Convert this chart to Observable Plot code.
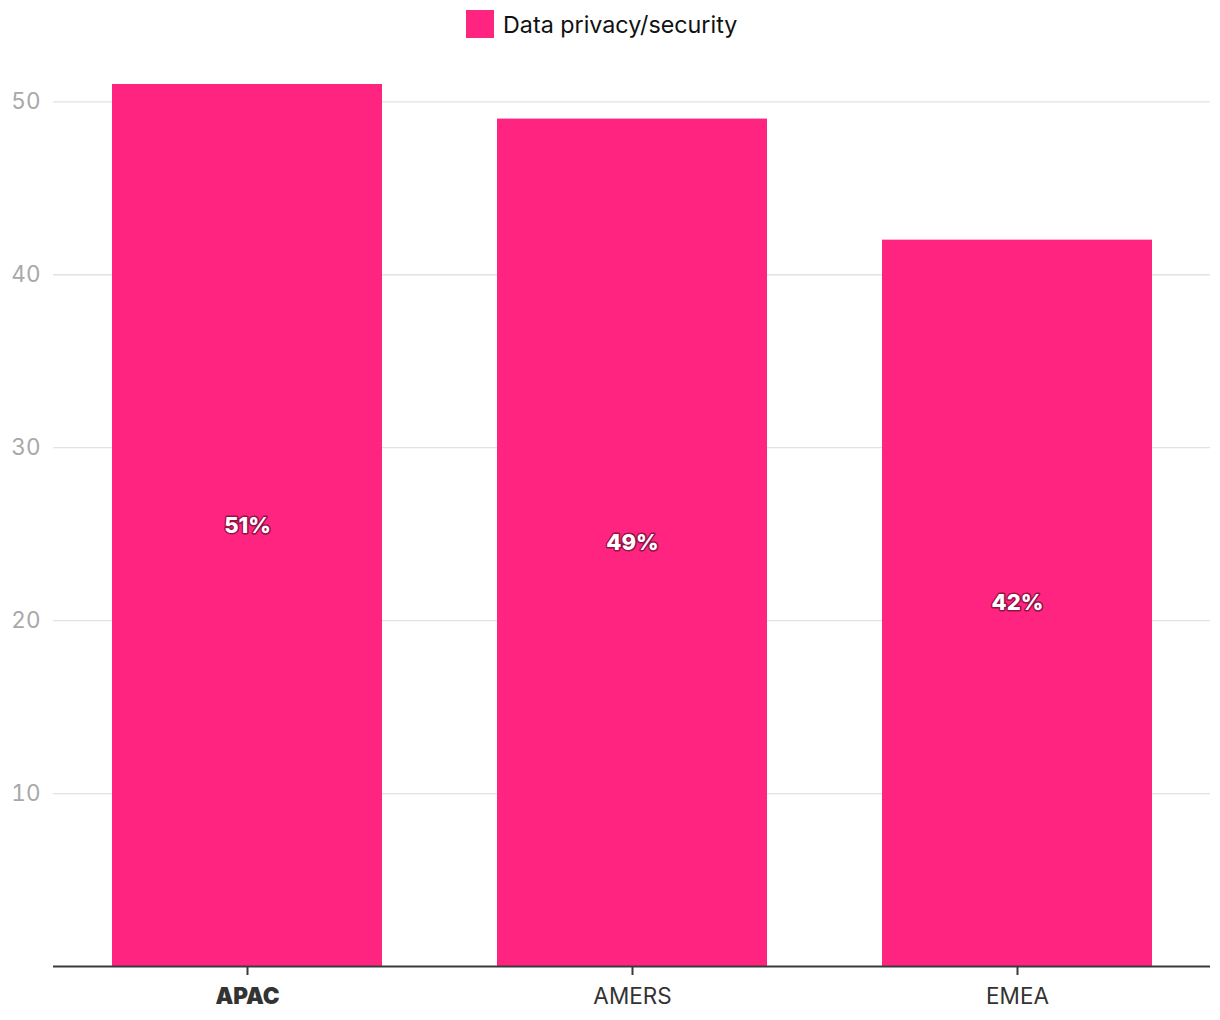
<!DOCTYPE html>
<html>
<head>
<meta charset="utf-8">
<script src="https://cdn.jsdelivr.net/npm/d3@7"></script>
<script src="https://cdn.jsdelivr.net/npm/@observablehq/plot@0.6"></script>
<style>
  body { margin: 0; background: #fff; font-family: Inter, "Noto Sans", sans-serif; }
  #legend { height: 48px; display: flex; align-items: center; padding-left: 466px; box-sizing: border-box; }
  #legend .sw { width: 28px; height: 28px; background: #FF2480; margin-right: 9px; }
  #legend .lb { font-size: 23.3px; color: #111; }
</style>
</head>
<body>
<div id="legend"><div class="sw"></div><div class="lb">Data privacy/security</div></div>
<div id="chart"></div>
<script>
const regions = ["APAC", "AMERS", "EMEA"];
const values = [51, 49, 42];
const seriesName = "Data privacy/security";
const yTicks = [10, 20, 30, 40, 50];
const barColor = "#FF2480";

const data = regions.map((r, i) => ({region: r, value: values[i]}));

const chart = Plot.plot({
  width: 1220,
  height: 972,
  marginLeft: 53,
  marginRight: 10,
  marginTop: 36,
  marginBottom: 54,
  style: {fontFamily: "Inter, 'Noto Sans', sans-serif", background: "#fff"},
  x: {domain: regions, paddingInner: 0.3, paddingOuter: 0.15, label: null},
  y: {domain: [0, 51], label: null},
  marks: [
    Plot.gridY(yTicks, {stroke: "#e2e2e2", strokeOpacity: 1, strokeWidth: 1.3}),
    Plot.axisY(yTicks, {tickSize: 0, tickPadding: 13, fontSize: 22.5, fill: "#a8a8a8", label: null}),
    Plot.barY(data, {x: "region", y: "value", fill: barColor}),
    Plot.ruleY([0], {stroke: "#3a3a3a", strokeWidth: 2}),
    Plot.axisX(["AMERS", "EMEA"], {tickSize: 9, tickPadding: 13, fontSize: 22.5, fill: "#333", stroke: "#3a3a3a", strokeWidth: 2, label: null}),
    Plot.axisX(["APAC"], {tickSize: 9, tickPadding: 13, fontSize: 22.5, fontWeight: 900, fill: "#333", stroke: "#3a3a3a", strokeWidth: 2, label: null}),
    Plot.text(data, {x: "region", y: d => d.value / 2, text: d => d.value + "%", fill: "#fff", stroke: "rgba(60,0,20,0.55)", strokeWidth: 3, paintOrder: "stroke", fontSize: 22, fontWeight: 800})
  ]
});
document.getElementById("chart").appendChild(chart);
</script>
</body>
</html>
